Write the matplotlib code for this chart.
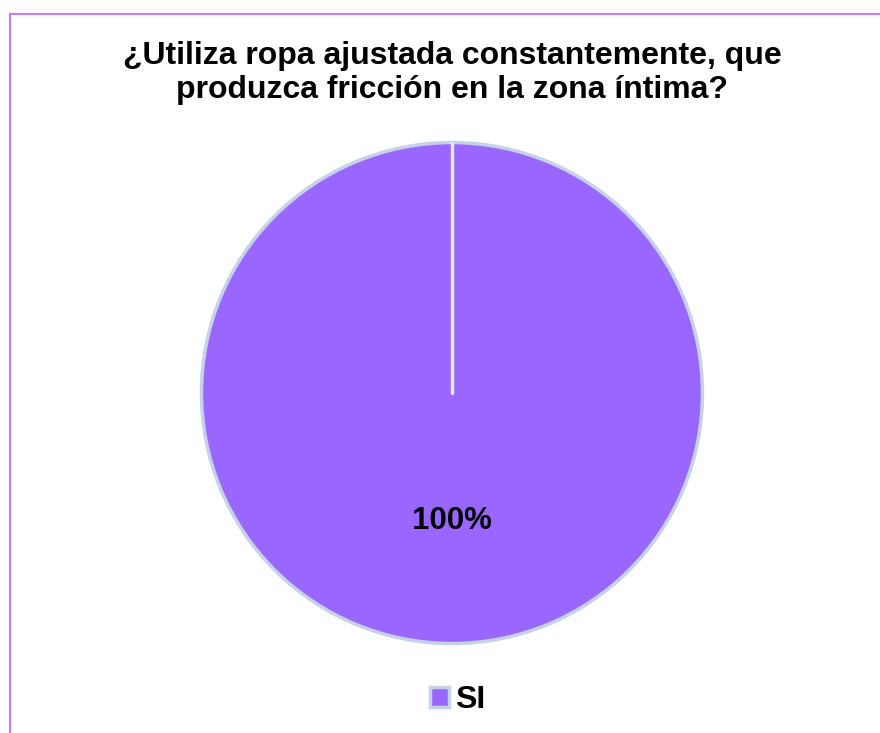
import matplotlib.pyplot as plt
from matplotlib.patches import Rectangle

plt.rcParams['font.family'] = ['Liberation Sans', 'DejaVu Sans']

categorias = ["SI"]
valores = [100]
titulo = "¿Utiliza ropa ajustada constantemente, que\nproduzca fricción en la zona íntima?"

morado = "#9966FF"
borde = "#C5D2E8"

fig = plt.figure(figsize=(8.8, 7.33), dpi=100)

# marco del grafico
fig.patches.append(Rectangle((9.5 / 880, -0.05), 1.1, 1 - 13.5 / 733 + 0.05,
                             transform=fig.transFigure, fill=False,
                             edgecolor="#C77DEE", linewidth=1.5))

ax = fig.add_axes([0.5136 - 0.2875, 0.4638 - 0.3452, 0.575, 0.6904])
wedges, textos, pct = ax.pie(valores, colors=[morado], startangle=90, counterclock=False,
                             autopct="%1.0f%%", pctdistance=0.51,
                             wedgeprops=dict(edgecolor=borde, linewidth=2.5))
# borde radial del sector unico
ax.plot([0, 0], [0, 1], color="#E4EAF6", linewidth=2.5, solid_capstyle="round", zorder=3)
ax.set_xlim(-1.01, 1.01)
ax.set_ylim(-1.01, 1.01)
for t in pct:
    t.set_fontsize(22.5)
    t.set_fontweight("bold")
    t.set_color("black")

fig.text(0.514, 1 - 73 / 733, titulo, ha="center", va="center", fontsize=23,
         fontweight="bold", linespacing=1.2)

fig.legend(wedges, categorias, loc="center", bbox_to_anchor=(0.52, 1 - 700 / 733),
           frameon=False, prop=dict(size=23, weight="bold"), handlelength=0.6,
           handleheight=0.6, handletextpad=0.2)

fig.savefig("out.png", dpi=100)
